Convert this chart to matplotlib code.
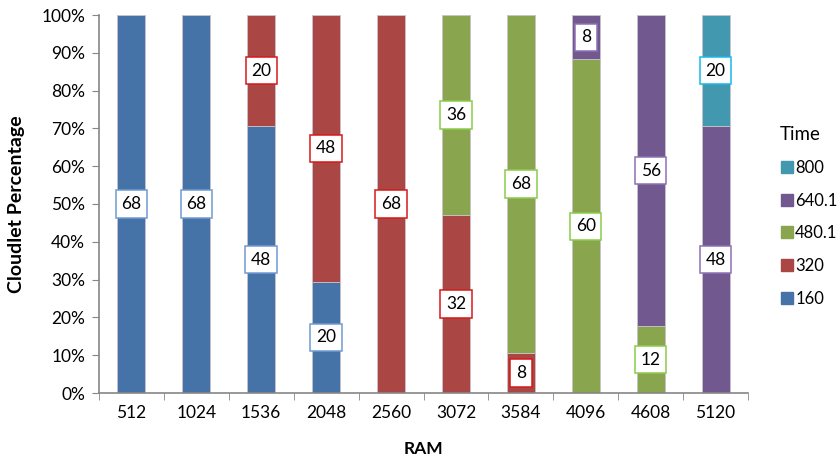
import matplotlib
matplotlib.use("Agg")
import matplotlib.pyplot as plt
from matplotlib.lines import Line2D
import numpy as np

plt.rcParams['font.family'] = ['Lato', 'DejaVu Sans']

ram = ['512', '1024', '1536', '2048', '2560', '3072', '3584', '4096', '4608', '5120']
series_names = ['160', '320', '480.1', '640.1', '800']
v160 = [68, 68, 48, 20, 0, 0, 0, 0, 0, 0]
v320 = [0, 0, 20, 48, 68, 32, 8, 0, 0, 0]
v480 = [0, 0, 0, 0, 0, 36, 68, 60, 12, 0]
v640 = [0, 0, 0, 0, 0, 0, 0, 8, 56, 48]
v800 = [0, 0, 0, 0, 0, 0, 0, 0, 0, 20]

bar_colors = ['#4572A7', '#AA4643', '#89A54E', '#71588F', '#4198AF']
box_colors = ['#6F9BD3', '#D61A1A', '#8CCB4C', '#8E70B5', '#19B8EE']

values = np.array([v160, v320, v480, v640, v800], dtype=float)
totals = values.sum(axis=0)
pct = values / totals * 100

fig = plt.figure(figsize=(8.4, 4.57), dpi=100)
ax = fig.add_axes([99 / 840, 1 - 393 / 457, 649 / 840, 378 / 457])

x = np.arange(len(ram))
bottom = np.zeros(len(ram))
for i, name in enumerate(series_names):
    ax.bar(x, pct[i], 0.43, bottom=bottom, color=bar_colors[i],
           edgecolor='#C9C2CC', linewidth=0.6, zorder=2)
    for j in range(len(ram)):
        if values[i, j] > 0:
            ax.text(x[j], bottom[j] + pct[i, j] / 2, f"{int(values[i, j])}",
                    ha='center', va='center', fontsize=12.5, color='black', zorder=4,
                    bbox=dict(boxstyle='square,pad=0.33', facecolor='white',
                              edgecolor=box_colors[i], linewidth=1.1))
    bottom += pct[i]

ax.set_xlim(-0.5, len(ram) - 0.5)
ax.set_ylim(0, 100)
ax.set_yticks(np.arange(0, 101, 10))
ax.set_yticklabels([f"{t}%" for t in range(0, 101, 10)], fontsize=12.5)
ax.set_xticks(x)
ax.set_xticklabels(ram, fontsize=12.5)
ax.set_xticks(np.arange(-0.5, len(ram), 1), minor=True)
ax.tick_params(axis='x', which='major', length=0, pad=9)
ax.tick_params(axis='x', which='minor', length=5, color='#868686', direction='out')
ax.tick_params(axis='y', length=5, color='#868686', direction='out', pad=5)

for s in ['top', 'right']:
    ax.spines[s].set_visible(False)
for s in ['left', 'bottom']:
    ax.spines[s].set_color('#868686')
    ax.spines[s].set_linewidth(1.2)

ax.set_xlabel('RAM', fontsize=12.5, fontweight='bold', labelpad=14)
ax.set_ylabel('Cloudlet Percentage', fontsize=14, fontweight='bold', labelpad=12)

handles = [Line2D([0], [0], marker='s', linestyle='none', markersize=9,
                  markerfacecolor=bar_colors[i], markeredgecolor=bar_colors[i])
           for i in range(len(series_names))][::-1]
leg = fig.legend(handles, series_names[::-1], title='Time', loc='upper left',
                 bbox_to_anchor=(766 / 840, 1 - 113 / 457), frameon=False,
                 fontsize=12, title_fontsize=13.5, handletextpad=0.05,
                 labelspacing=1.0, handlelength=0.9, borderpad=0.3)
leg._legend_box.align = 'left'

fig.savefig('out.png', dpi=100)
